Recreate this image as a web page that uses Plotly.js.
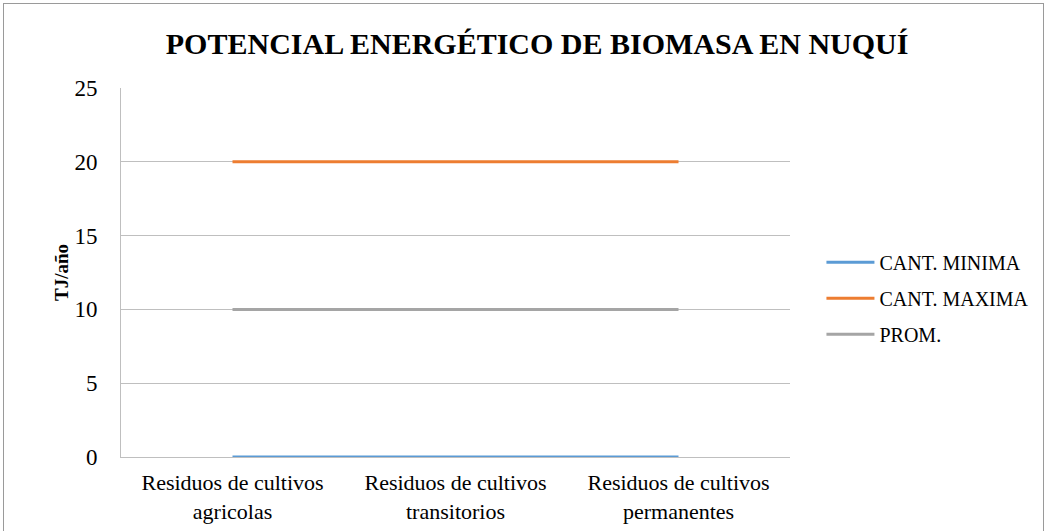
<!DOCTYPE html>
<html>
<head>
<meta charset="utf-8">
<script src="https://cdn.plot.ly/plotly-3.0.1.min.js"></script>
<style>
html,body{margin:0;padding:0;background:#fff;}
#wrap{position:relative;width:1047px;height:531px;overflow:hidden;}
#chart{width:1047px;height:531px;}
#frame{position:absolute;left:3px;top:3px;width:1039px;height:560px;border:1px solid #9a9a9a;pointer-events:none;}
</style>
</head>
<body>
<div id="wrap"><div id="chart"></div><div id="frame"></div></div>
<script>
const categories = ["Residuos de cultivos<br>agricolas", "Residuos de cultivos<br>transitorios", "Residuos de cultivos<br>permanentes"];
const cantMinima = [0, 0, 0];
const cantMaxima = [20, 20, 20];
const prom = [10, 10, 10];
const seriesNames = ["CANT. MINIMA", "CANT. MAXIMA", "PROM."];
const seriesColors = ["#5B9BD5", "#ED7D31", "#A5A5A5"];
const seriesValues = [cantMinima, cantMaxima, prom];
const yTicks = [0, 5, 10, 15, 20, 25];

const serif = "Times New Roman, Liberation Serif, serif";
const traces = seriesValues.map((v, i) => ({
  type: "scatter", mode: "lines", x: categories, y: v, name: seriesNames[i],
  legendgroup: "g" + i,
  line: {color: seriesColors[i], width: 3}, cliponaxis: false
}));

const layout = {
  width: 1047, height: 531,
  margin: {l: 121, r: 257, t: 88, b: 74},
  paper_bgcolor: "#fff", plot_bgcolor: "#fff",
  title: {text: "<b>POTENCIAL ENERGÉTICO DE BIOMASA EN NUQUÍ</b>", font: {family: serif, size: 30, color: "#000"}, x: 0.513, xanchor: "center", y: 0.918, yanchor: "middle"},
  xaxis: {type: "category", range: [-0.5, 2.5], showgrid: false, zeroline: false, showline: true, linecolor: "#bfbfbf", linewidth: 1,
    ticks: "", tickfont: {family: serif, size: 22, color: "#000"}, ticklabelstandoff: 6, fixedrange: true},
  yaxis: {range: [0, 25], tickvals: yTicks, showgrid: true, gridcolor: "#bfbfbf", gridwidth: 1, zeroline: false,
    showline: true, linecolor: "#bfbfbf", linewidth: 1, ticks: "",
    tickfont: {family: serif, size: 23, color: "#000"}, ticklabelstandoff: 18,
    title: {text: "<b>TJ/año</b>", font: {family: serif, size: 19, color: "#000"}, standoff: 0}},
  legend: {x: 1.047, xanchor: "left", y: 0.43, yanchor: "middle", font: {family: serif, size: 20, color: "#000"},
    tracegroupgap: 7, itemwidth: 48, bgcolor: "rgba(0,0,0,0)"},
  showlegend: true
};
Plotly.newPlot("chart", traces, layout, {staticPlot: true});
</script>
</body>
</html>
